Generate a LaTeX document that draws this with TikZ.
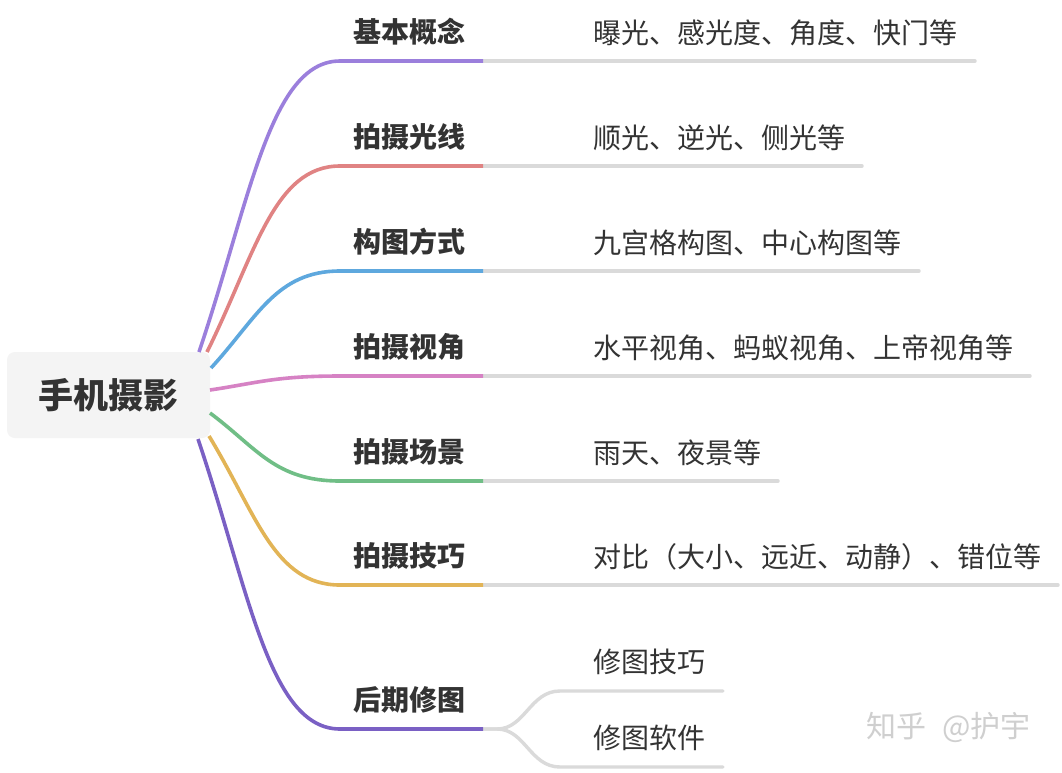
\documentclass[tikz,border=0pt]{standalone}
\usepackage{fontspec}
\newfontfamily\cjk{Noto Sans CJK SC}
\definecolor{cPurple}{HTML}{9B7FDC}
\definecolor{cRed}{HTML}{E08383}
\definecolor{cBlue}{HTML}{5EA8DE}
\definecolor{cPink}{HTML}{D682C4}
\definecolor{cGreen}{HTML}{70BE86}
\definecolor{cYellow}{HTML}{E2B456}
\definecolor{cDeep}{HTML}{7A60C4}
\definecolor{cGray}{HTML}{DADADA}
\definecolor{cRoot}{HTML}{F4F4F4}
\definecolor{cText}{HTML}{333333}
\definecolor{cMark}{HTML}{CFCFCF}
\tikzset{
  rootbox/.style={fill=cRoot, rounded corners=8pt, minimum width=203pt, minimum height=86pt,
    inner sep=0pt, text=cText, font=\cjk\bfseries\fontsize{35}{40}\selectfont},
  branchlabel/.style={anchor=west, inner sep=0pt, text=cText, font=\cjk\bfseries\fontsize{28}{32}\selectfont},
  leaflabel/.style={anchor=west, inner sep=0pt, text=cText, font=\cjk\fontsize{28}{32}\selectfont},
  markstyle/.style={anchor=west, inner sep=0pt, text=cMark, font=\cjk\fontsize{30}{34}\selectfont},
  grayline/.style={draw=cGray, line width=3.4pt, line cap=round},
  colline/.style={line width=3.6pt}
}
\begin{document}
\begin{tikzpicture}[x=1pt,y=-1pt]
\useasboundingbox (0,0) rectangle (1062,772);
\fill[white] (0,0) rectangle (1062,772);

% root
\node[rootbox] (root) at (108.5,395) {手机摄影};

% start points on root
\coordinate (s1) at (199,352);
\coordinate (s2) at (207,352);
\coordinate (s3) at (211,368);
\coordinate (s4) at (210,390);
\coordinate (s5) at (210,413);
\coordinate (s6) at (209,436);
\coordinate (s7) at (198,439);

% knees (end of coloured part) and gray ends
\foreach \i/\y in {1/61,2/166,3/271,4/376,5/481,6/585,7/729}{
  \coordinate (h\i) at (340,\y);
  \coordinate (k\i) at (483,\y);
}
\coordinate (e1) at (975,61);
\coordinate (e2) at (862,166);
\coordinate (e3) at (919,271);
\coordinate (e4) at (1030,376);
\coordinate (e5) at (778,481);
\coordinate (e6) at (1058,585);
\coordinate (f0) at (497,729);
\coordinate (fa) at (560,691);
\coordinate (fb) at (560,767);
\coordinate (ea) at (723,691);
\coordinate (eb) at (723,767);

% gray extensions
\foreach \i in {1,...,6}{ \draw[grayline] (k\i) -- (e\i); }
\draw[grayline] (k7) -- (f0) .. controls (525,729) and (530,691) .. (fa) -- (ea);
\draw[grayline] (k7) -- (f0) .. controls (525,729) and (530,767) .. (fb) -- (eb);

% coloured branches
\draw[colline, draw=cPurple] (s1) .. controls (250,201) and (270,61) .. (h1) -- (k1);
\draw[colline, draw=cRed]    (s2) .. controls (255,255) and (273.5,166) .. (h2) -- (k2);
\draw[colline, draw=cBlue]   (s3) .. controls (257,318) and (276,271) .. (h3) -- (k3);
\draw[colline, draw=cPink]   (s4) .. controls (257,383) and (275,376) .. (h4) -- (k4);
\draw[colline, draw=cGreen]  (s5) .. controls (257,448) and (275,481) .. (h5) -- (k5);
\draw[colline, draw=cYellow] (s6) .. controls (256,513) and (274,585) .. (h6) -- (k6);
\draw[colline, draw=cDeep]   (s7) .. controls (249,590) and (269,729) .. (h7) -- (k7);

% branch labels
\node[branchlabel] (b1) at (353,32) {基本概念};
\node[branchlabel] (b2) at (353,137) {拍摄光线};
\node[branchlabel] (b3) at (353,242) {构图方式};
\node[branchlabel] (b4) at (353,347) {拍摄视角};
\node[branchlabel] (b5) at (353,452) {拍摄场景};
\node[branchlabel] (b6) at (353,556) {拍摄技巧};
\node[branchlabel] (b7) at (353,700) {后期修图};

% leaf labels
\node[leaflabel] (l1) at (593,33) {曝光、感光度、角度、快门等};
\node[leaflabel] (l2) at (593,138) {顺光、逆光、侧光等};
\node[leaflabel] (l3) at (593,243) {九宫格构图、中心构图等};
\node[leaflabel] (l4) at (593,348) {水平视角、蚂蚁视角、上帝视角等};
\node[leaflabel] (l5) at (593,453) {雨天、夜景等};
\node[leaflabel] (l6) at (593,557) {对比（大小、远近、动静）、错位等};
\node[leaflabel] (l7a) at (593,662) {修图技巧};
\node[leaflabel] (l7b) at (593,738) {修图软件};

% watermark
\node[markstyle] (wm) at (866,727) {知乎\hspace{16pt}@护宇};
\end{tikzpicture}
\end{document}
